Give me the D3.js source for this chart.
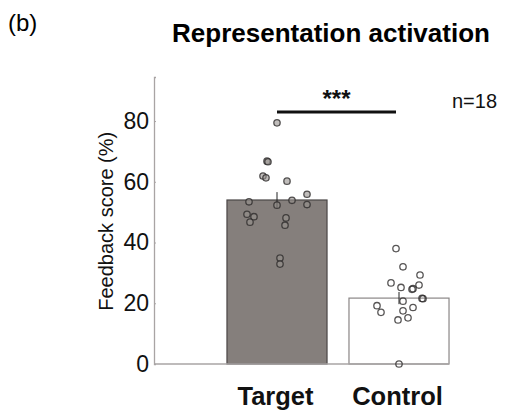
<!DOCTYPE html>
<html>
<head>
<meta charset="utf-8">
<script src="https://cdn.jsdelivr.net/npm/d3@7"></script>
<style>
  body { margin: 0; background: #fff; }
  svg { font-family: "Liberation Sans", Arial, sans-serif; }
</style>
</head>
<body>
<svg id="chart" width="513" height="411"></svg>
<script>
// group summary
var groups = ['Target', 'Control'];
var means = [54, 21.7];
var sems = [2.6, 2.0];

// individual subject scores, jitter is fraction of bar width from centre
var targetScores = [79.4, 66.8, 66.6, 61.9, 61.3, 60.2, 55.9, 53.4, 52.3, 53.9, 52.5, 49.3, 48.5, 46.7, 48.1, 45.7, 34.9, 32.9];
var targetJitter = [0, -0.1, -0.09, -0.14, -0.11, 0.1, 0.3, -0.28, 0, 0.15, 0.3, -0.3, -0.23, -0.27, 0.09, 0.08, 0.03, 0.03];
var controlScores = [38.0, 32.0, 29.3, 26.7, 26.0, 25.2, 24.8, 24.6, 21.5, 21.6, 20.7, 19.2, 17.0, 18.6, 17.5, 15.2, 14.5, 0];
var controlJitter = [-0.03, 0.04, 0.21, -0.08, 0.2, 0.02, 0.14, 0.13, 0.24, 0.23, 0.04, -0.22, -0.18, 0.14, 0.04, 0.09, -0.01, 0];

var yTicks = [0, 20, 40, 60, 80];
var nLabel = 'n=18';
var sigLabel = '***';

var svg = d3.select('#chart');

var y = d3.scaleLinear().domain([0, 94.5]).range([364, 77]);
var x = d3.scaleBand().domain(groups).range([216, 460]).paddingInner(0.18).paddingOuter(0.09);
var axisLeft = 154;

// title and panel label
svg.append('text').attr('x', 8).attr('y', 31).attr('font-size', 24).text('(b)');
svg.append('text').attr('x', 331).attr('y', 42).attr('text-anchor', 'middle')
  .attr('font-size', 26).attr('font-weight', 'bold').text('Representation activation');

// y axis
var yAxis = svg.append('g').attr('transform', 'translate(' + axisLeft + ',0)')
  .call(d3.axisLeft(y).tickValues(yTicks).tickSize(-2).tickPadding(5).tickFormat(d3.format('d')));
yAxis.select('.domain').attr('stroke', '#a9a4a4').attr('stroke-width', 1.3);
yAxis.selectAll('.tick line').attr('stroke', '#a9a4a4');
yAxis.selectAll('.tick text').attr('font-size', 23).attr('fill', '#111')
  .attr('font-family', '"Liberation Sans", Arial, sans-serif');

svg.append('text')
  .attr('transform', 'translate(113,' + y(47) + ') rotate(-90)')
  .attr('text-anchor', 'middle').attr('font-size', 20).attr('fill', '#111')
  .text('Feedback score (%)');

// bars
var barFill = ['#857f7c', '#ffffff'];
var barStroke = ['#4a4646', '#8a8686'];
svg.selectAll('rect.bar').data(groups).enter().append('rect')
  .attr('class', 'bar')
  .attr('x', d => x(d)).attr('width', x.bandwidth())
  .attr('y', (d, i) => y(means[i])).attr('height', (d, i) => y(0) - y(means[i]))
  .attr('fill', (d, i) => barFill[i]).attr('stroke', (d, i) => barStroke[i]).attr('stroke-width', 1.2);

// baseline
svg.append('line').attr('x1', axisLeft).attr('x2', x('Control') + x.bandwidth())
  .attr('y1', y(0)).attr('y2', y(0)).attr('stroke', '#a9a4a4').attr('stroke-width', 1.3);

// error bars
svg.selectAll('line.err').data(groups).enter().append('line')
  .attr('class', 'err')
  .attr('x1', d => x(d) + x.bandwidth() / 2).attr('x2', d => x(d) + x.bandwidth() / 2)
  .attr('y1', (d, i) => y(means[i] + sems[i])).attr('y2', (d, i) => y(means[i] - sems[i]))
  .attr('stroke', '#222').attr('stroke-width', 1);

// subject dots
function dots(scores, jitter, g, fill) {
  var cx = x(g) + x.bandwidth() / 2;
  svg.append('g').selectAll('circle').data(scores).enter().append('circle')
    .attr('cx', (d, i) => cx + jitter[i] * x.bandwidth())
    .attr('cy', d => y(d))
    .attr('r', 3.2)
    .attr('fill', fill)
    .attr('stroke', '#2e2c2c').attr('stroke-opacity', 0.8).attr('stroke-width', 1.3);
}
dots(targetScores, targetJitter, 'Target', 'rgba(150,145,142,0.6)');
dots(controlScores, controlJitter, 'Control', 'none');

// significance
var sx1 = x('Target') + x.bandwidth() / 2, sx2 = x('Control') + x.bandwidth() / 2 - 3;
svg.append('line').attr('x1', sx1).attr('x2', sx2).attr('y1', 112).attr('y2', 112)
  .attr('stroke', '#111').attr('stroke-width', 3);
svg.append('text').attr('x', (sx1 + sx2) / 2).attr('y', 107).attr('text-anchor', 'middle')
  .attr('font-size', 24).attr('font-weight', 'bold').attr('fill', '#111').text(sigLabel);
svg.append('text').attr('x', 452).attr('y', 108).attr('font-size', 20).attr('fill', '#111').text(nLabel);

// category labels
svg.selectAll('text.cat').data(groups).enter().append('text')
  .attr('class', 'cat')
  .attr('x', d => x(d) + x.bandwidth() / 2 - 1.5).attr('y', 405)
  .attr('text-anchor', 'middle').attr('font-size', 25.5).attr('font-weight', 'bold').attr('fill', '#111')
  .text(d => d);
</script>
</body>
</html>
